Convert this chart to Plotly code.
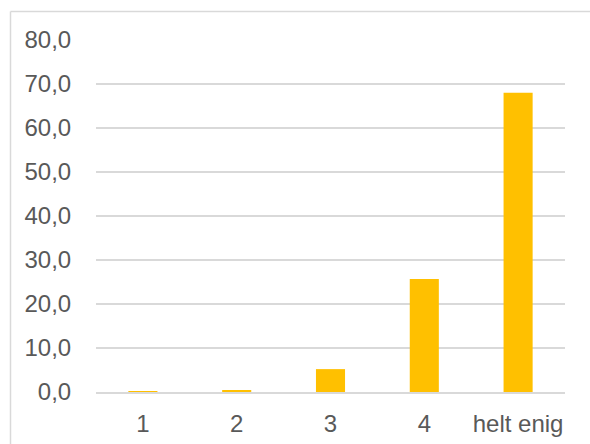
import plotly.graph_objects as go

categories = ["1", "2", "3", "4", "helt enig"]
values = [0.2, 0.4, 5.2, 25.7, 68.0]
y_ticks = [0, 10, 20, 30, 40, 50, 60, 70, 80]
y_tick_labels = ["0,0", "10,0", "20,0", "30,0", "40,0", "50,0", "60,0", "70,0", "80,0"]

W, H = 590, 444
L, R, T, B = 96, 25, 40, 52
pw, ph = W - L - R, H - T - B

def px_to_paper_x(px):
    return (px - L) / pw

def px_to_paper_y(py):
    return (H - B - py) / ph

fig = go.Figure(
    go.Bar(
        x=categories,
        y=values,
        marker=dict(color="#FFC000", line=dict(width=0)),
        width=0.31,
    )
)

# chart-area frame (open to the right and bottom)
frame = dict(type="line", xref="paper", yref="paper",
             line=dict(color="#D9D9D9", width=1.5), layer="above")
fig.add_shape(**frame, x0=px_to_paper_x(10.5), x1=px_to_paper_x(600),
              y0=px_to_paper_y(11.5), y1=px_to_paper_y(11.5))
fig.add_shape(**frame, x0=px_to_paper_x(10.5), x1=px_to_paper_x(10.5),
              y0=px_to_paper_y(11.5), y1=px_to_paper_y(460))

fig.update_layout(
    width=W, height=H,
    margin=dict(l=L, r=R, t=T, b=B, autoexpand=False),
    paper_bgcolor="white", plot_bgcolor="white",
    font=dict(family="Liberation Sans, Arial, sans-serif", size=24, color="#595959"),
    showlegend=False,
    bargap=0.69,
)
fig.update_xaxes(
    type="category", automargin=False,
    showgrid=False, showline=True, linecolor="#D9D9D9", linewidth=1.5,
    ticks="outside", ticklen=9, tickcolor="rgba(0,0,0,0)",
    zeroline=False,
)
fig.update_yaxes(
    range=[0, 80], tickvals=y_ticks, ticktext=y_tick_labels, automargin=False,
    showgrid=True, gridcolor="#D9D9D9", gridwidth=1.5,
    zeroline=False, showline=False,
    ticks="outside", ticklen=19, tickcolor="rgba(0,0,0,0)",
)

fig.write_html("out.html")
